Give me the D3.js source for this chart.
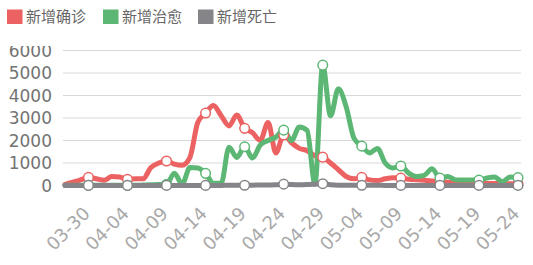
<!DOCTYPE html>
<html><head><meta charset="utf-8">
<script src="https://cdn.jsdelivr.net/npm/d3@7/dist/d3.min.js"></script>
<style>body{margin:0;background:#fff}svg{display:block}</style>
</head><body>
<svg id="c" width="533" height="265"></svg>
<script>
const startDate = "2020-03-27";
const dayCount = 59;
const seriesNames = ["新增确诊", "新增治愈", "新增死亡"];
const seriesColors = ["#ec6262", "#5cb674", "#858489"];
const confirmed = [50,150,250,360,300,230,400,380,275,300,300,800,1000,1090,950,900,1250,2800,3220,3560,3100,2650,3130,2540,2350,2000,2800,1450,2250,1900,1650,1550,1320,1260,1000,700,400,300,360,250,220,300,350,330,280,250,230,200,170,150,120,110,100,100,90,90,80,80,70];
const cured = [10,10,10,10,10,10,10,10,10,10,20,30,50,50,550,60,800,780,540,100,100,1700,1250,1720,1220,1800,2000,2150,2460,2000,2600,2450,60,5350,3100,4300,3500,2100,1750,1450,1650,1000,780,865,550,400,450,750,330,400,250,240,240,240,330,380,170,380,350];
const deaths = [5,5,5,5,5,5,5,5,5,5,5,5,5,5,5,5,5,5,5,5,5,10,10,10,15,20,25,30,60,40,30,40,60,80,30,10,10,10,10,10,10,5,5,5,5,5,5,5,5,5,5,5,5,5,5,5,5,5,5];
const yTicks = [0,1000,2000,3000,4000,5000,6000];
const labelEvery = 5, labelOffset = 3;

const parse = d3.timeParse("%Y-%m-%d");
const fmt = d3.timeFormat("%m-%d");
const d0 = parse(startDate);
const dates = d3.range(dayCount).map(i => fmt(d3.timeDay.offset(d0, i)));

const svg = d3.select("#c");
const x = d3.scalePoint().domain(dates).range([65, 518]);
const y = d3.scaleLinear().domain([0, 6000]).range([185.5, 50.5]);

svg.append("clipPath").attr("id","clip").append("rect").attr("x",0).attr("y",46).attr("width",533).attr("height",219);
const g = svg.append("g").attr("clip-path","url(#clip)");

// grid
g.append("g").selectAll("line").data(yTicks).join("line")
  .attr("x1",63).attr("x2",521).attr("y1",d=>y(d)).attr("y2",d=>y(d))
  .attr("stroke","#d8d8d8").attr("stroke-width",1);

// y labels
g.append("g").selectAll("text").data(yTicks).join("text")
  .attr("x",52).attr("y",d=>y(d)).attr("dy","0.36em").attr("text-anchor","end")
  .attr("font-family","DejaVu Sans").attr("font-size",17).attr("fill","#737373")
  .text(d=>d);

// x labels
const labelDates = dates.filter((d,i)=> i>=labelOffset && (i-labelOffset)%labelEvery===0);
g.append("g").selectAll("text").data(labelDates).join("text")
  .attr("transform",d=>`translate(${x(d)-2},${210}) rotate(-45)`)
  .attr("text-anchor","end").attr("dy","0.36em")
  .attr("font-family","DejaVu Sans").attr("font-size",18).attr("fill","#a9a9a9")
  .text(d=>d);

const allSeries = [confirmed, cured, deaths];
const line = d3.line().x((d,i)=>x(dates[i])).y(d=>y(d)).curve(d3.curveMonotoneX);
allSeries.forEach((s,k)=>{
  g.append("path").datum(s).attr("d",line).attr("fill","none")
    .attr("stroke",seriesColors[k]).attr("stroke-width",5)
    .attr("stroke-linejoin","round").attr("stroke-linecap","round");
});
allSeries.forEach((s,k)=>{
  const pts = s.map((v,i)=>({v,i})).filter(p=>p.i>=labelOffset && (p.i-labelOffset)%labelEvery===0);
  g.append("g").selectAll("circle").data(pts).join("circle")
    .attr("cx",p=>x(dates[p.i])).attr("cy",p=>y(p.v)).attr("r",4.8)
    .attr("fill","#fff").attr("stroke",seriesColors[k]).attr("stroke-width",1.5);
});

// legend
const legX = [7, 103, 198];
const lg = svg.append("g");
seriesNames.forEach((n,k)=>{
  lg.append("rect").attr("x",legX[k]).attr("y",9.5).attr("width",15.5).attr("height",14.5).attr("fill",seriesColors[k]);
  lg.append("text").attr("x",legX[k]+19).attr("y",17).attr("dy","0.36em")
    .attr("font-family","Noto Sans CJK SC").attr("font-size",15).attr("fill","#666")
    .text(n);
});
</script>
</body></html>
